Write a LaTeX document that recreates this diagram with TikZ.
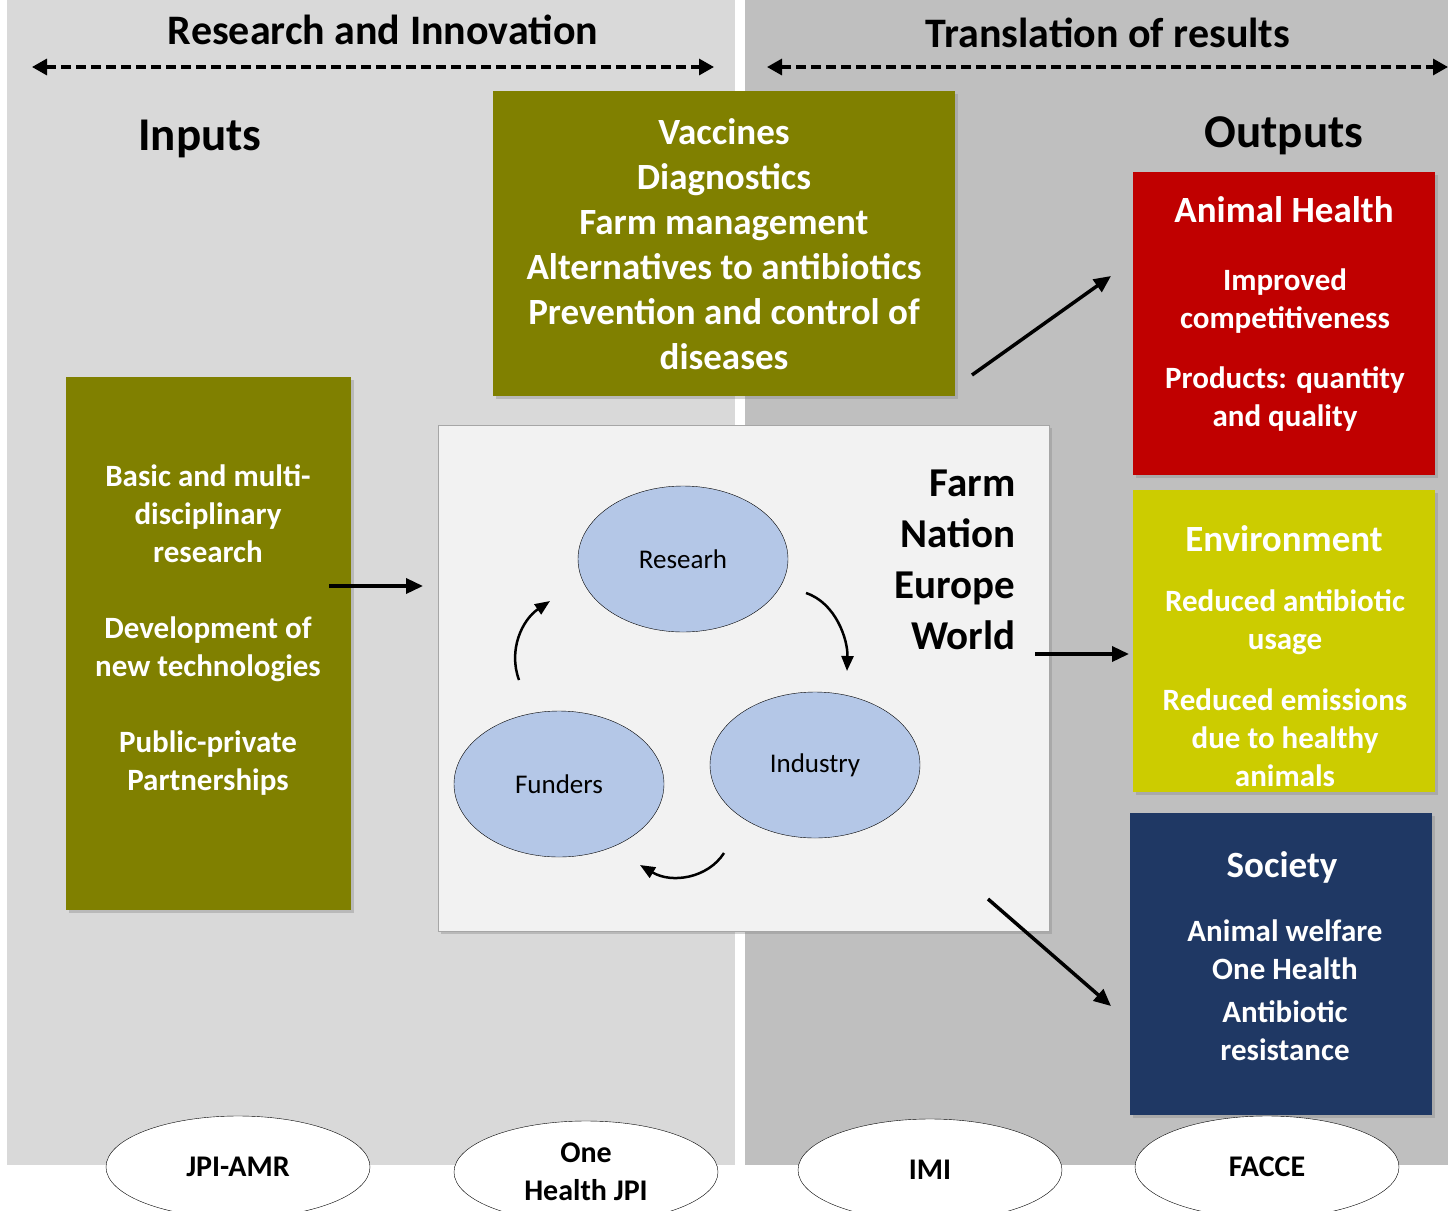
\documentclass[tikz,border=0pt]{standalone}
\usepackage{fontspec}
\setmainfont{Carlito}
\usetikzlibrary{arrows.meta,shapes.geometric,shadows}
\definecolor{leftgray}{HTML}{D9D9D9}
\definecolor{rightgray}{HTML}{BFBFBF}
\definecolor{olivebox}{HTML}{808000}
\definecolor{centerbox}{HTML}{F2F2F2}
\definecolor{blobblue}{HTML}{B4C7E7}
\definecolor{healthred}{HTML}{C00000}
\definecolor{envyellow}{HTML}{CCCC00}
\definecolor{socnavy}{HTML}{1F3864}
\begin{document}
\begin{tikzpicture}[x=1pt,y=-1pt,
  box/.style={anchor=north west, inner sep=0, drop shadow={opacity=0.35,shadow xshift=3pt,shadow yshift=-3pt}},
  txt/.style={text=white, font=\bfseries\fontsize{31}{38}\selectfont, align=center},
  ttl/.style={text=white, font=\bfseries\fontsize{37}{45}\selectfont, align=center},
  head/.style={font=\bfseries\fontsize{42}{50}\selectfont},
  blob/.style={ellipse, draw, thin, fill=blobblue, minimum width=210, minimum height=146, font=\fontsize{27}{32}\selectfont},
  jpi/.style={ellipse, draw, thin, fill=white, minimum width=264, minimum height=102, font=\bfseries\fontsize{30}{38}\selectfont, align=center},
  arr/.style={-{Triangle[length=17pt,width=15pt]}, line width=3.5pt},
  curl/.style={-{Triangle[length=15pt,width=12pt]}, line width=2.5pt},
  span/.style={{Triangle[length=15pt,width=16pt]}-{Triangle[length=15pt,width=16pt]}, line width=3.2pt, dash pattern=on 10pt off 5pt}]
\useasboundingbox (0,0) rectangle (1448,1210);
\clip (0,0) rectangle (1448,1210);
\fill[leftgray] (7,0) rectangle (735,1165);
\fill[rightgray] (745,0) rectangle (1448,1165);

\node[head] (rihead) at (383,30) {Research and Innovation};
\node[head] (trhead) at (1108,33) {Translation of results};
\coordinate (ril) at (32,67);
\coordinate (rir) at (714,67);
\coordinate (trl) at (767,67);
\coordinate (trr) at (1448,67);
\draw[span] (ril) -- (rir);
\draw[span] (trl) -- (trr);
\node[font=\bfseries\fontsize{47}{56}\selectfont] (inputs) at (200,139) {Inputs};
\node[font=\bfseries\fontsize{47}{56}\selectfont] (outputs) at (1284,136) {Outputs};

\node[box, fill=olivebox, minimum width=462, minimum height=305] (topbox) at (493,91) {};
\node[txt, font=\bfseries\fontsize{37}{45}\selectfont] (toptxt) at (724,244.5) {Vaccines\\Diagnostics\\Farm management\\Alternatives to antibiotics\\Prevention and control of\\diseases};

\node[box, fill=olivebox, minimum width=285, minimum height=533] (inbox) at (66,377) {};
\node[txt] (intxt) at (208,630) {Basic and multi-\\disciplinary\\research\\[38pt]Development of\\new technologies\\[38pt]Public-private\\Partnerships};

\node[box, fill=centerbox, draw=gray!70, minimum width=611, minimum height=506] (midbox) at (438,425) {};
\node[blob] (res) at (683,559) {Researh};
\node[blob] (ind) at (815,765) {Industry};
\node[blob] (fun) at (559,784) {Funders};
\node[font=\bfseries\fontsize{41}{51}\selectfont, align=right, anchor=east] (scale) at (1019,560) {Farm\\Nation\\Europe\\World};
\coordinate (c1a) at (806,593);
\coordinate (c1b) at (847,671);
\coordinate (c2a) at (724,853);
\coordinate (c2b) at (640,865);
\coordinate (c3a) at (519,680);
\coordinate (c3b) at (550,601);
\draw[curl] (c1a) .. controls (836,603) and (848,640) .. (c1b);
\draw[curl] (c2a) .. controls (708,878) and (672,884) .. (c2b);
\draw[curl] (c3a) .. controls (508,650) and (522,620) .. (c3b);

\node[box, fill=healthred, minimum width=302, minimum height=303] (redbox) at (1133,172) {};
\node[ttl] (redttl) at (1284,210) {Animal Health};
\node[txt] (redtxt) at (1285,350) {Improved\\competitiveness\\[22pt]Products: quantity\\and quality};

\node[box, fill=envyellow, minimum width=302, minimum height=302] (yelbox) at (1133,490) {};
\node[ttl] (yelttl) at (1284,539) {Environment};
\node[txt] (yeltxt) at (1285,688) {Reduced antibiotic\\usage\\[23pt]Reduced emissions\\due to healthy\\animals};

\node[box, fill=socnavy, minimum width=302, minimum height=302] (navbox) at (1130,813) {};
\node[ttl] (navttl) at (1282,867) {Society};
\node[txt] (navtxt) at (1285,990) {Animal welfare\\One Health\\[5pt]Antibiotic\\resistance};

\coordinate (a1) at (329,586);
\coordinate (a2) at (423,586);
\coordinate (b1) at (1035,654);
\coordinate (b2) at (1129,654);
\coordinate (u1) at (972,375);
\coordinate (u2) at (1111,276);
\coordinate (d1) at (988,899);
\coordinate (d2) at (1111,1006);
\draw[arr] (a1) -- (a2);
\draw[arr] (b1) -- (b2);
\draw[arr] (u1) -- (u2);
\draw[arr] (d1) -- (d2);

\node[jpi] (amr) at (238,1167) {JPI-AMR};
\node[jpi] (ohjpi) at (586,1172) {One\\Health JPI};
\node[jpi] (imi) at (930,1170) {IMI};
\node[jpi] (facce) at (1267,1167) {FACCE};
\end{tikzpicture}
\end{document}
